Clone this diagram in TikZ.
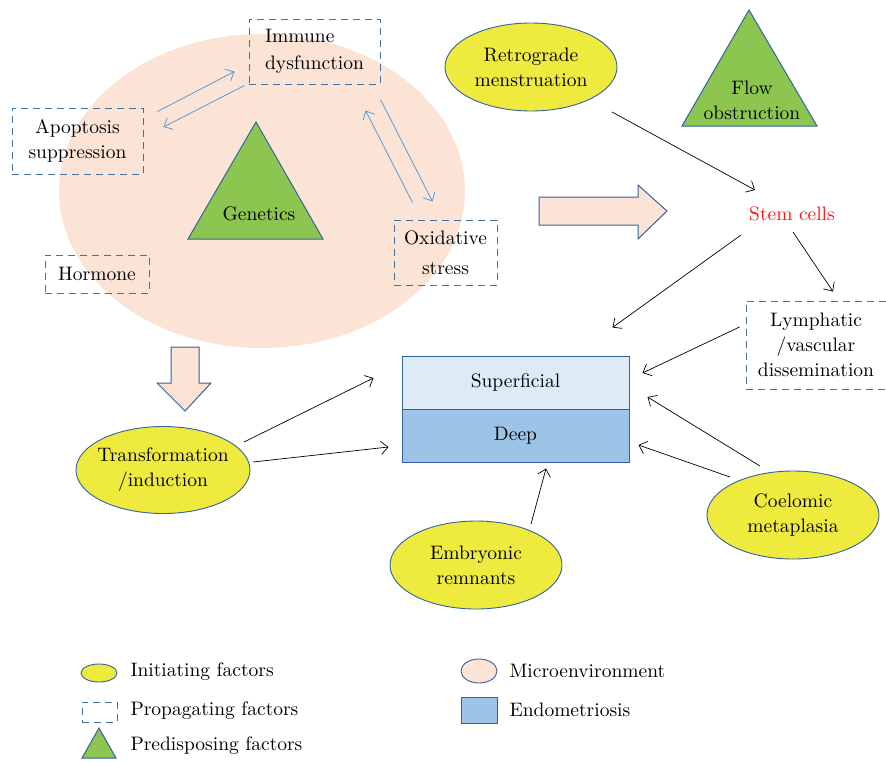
\documentclass[tikz,border=0pt]{standalone}
\usepackage{fontspec}
\setmainfont{lmroman10-regular.otf}
\usepackage{tikz}
\usetikzlibrary{arrows.meta,positioning,calc,shapes.geometric}

\definecolor{microfill}{RGB}{251,228,214}
\definecolor{initfill}{RGB}{238,234,62}
\definecolor{predfill}{RGB}{140,198,80}
\definecolor{shapeline}{RGB}{52,98,160}
\definecolor{dashline}{RGB}{65,113,156}
\definecolor{linkblue}{RGB}{91,155,213}
\definecolor{supfill}{RGB}{221,235,247}
\definecolor{deepfill}{RGB}{157,195,230}
\definecolor{stemred}{RGB}{255,20,20}

\tikzset{
  initiating/.style={ellipse,draw=shapeline,fill=initfill,line width=0.9pt,
    minimum width=172pt,minimum height=88pt,inner sep=0pt,align=center},
  propagating/.style={draw=dashline,dash pattern=on 7pt off 5pt,line width=1pt,
    inner sep=0pt,align=center},
  predisposing/.style={draw=shapeline,fill=predfill,line width=1pt},
  layer/.style={draw=shapeline,line width=1pt,minimum width=227pt,
    minimum height=53pt,inner sep=0pt},
  fatarrow/.style={draw=shapeline,fill=microfill,line width=1pt},
  link/.style={->,line width=0.7pt},
  feedback/.style={->,draw=linkblue,line width=0.8pt},
}

\begin{document}
\begin{tikzpicture}[x=1pt,y=-1pt,>={Straight Barb[length=7pt,width=13pt]},
  font=\fontsize{19.5}{25}\selectfont]
\useasboundingbox (0,0) rectangle (886,761);

% microenvironment
\node (micro) [ellipse,fill=microfill,minimum width=406pt,minimum height=314pt] at (262,191) {};

% propagating factors
\node (immune) [propagating,minimum width=131pt,minimum height=65pt,align=left,
  font=\fontsize{19.5}{27}\selectfont] at (314.5,51.5) {Immune\\dysfunction};
\node (apop)   [propagating,minimum width=131pt,minimum height=66pt] at (77.5,141) {Apoptosis\\suppression};
\node (horm)   [propagating,minimum width=104pt,minimum height=38pt] at (97,274) {Hormone};
\node (oxid)   [propagating,minimum width=103pt,minimum height=65pt,
  font=\fontsize{19.5}{30}\selectfont] at (445.5,252.5) {Oxidative\\stress};
\node (lymph)  [propagating,minimum width=140pt,minimum height=88pt] at (816,345) {Lymphatic\\/vascular\\dissemination};

% predisposing factors
\filldraw[predisposing] (256,122) -- (323,239) -- (188,239) -- cycle;
\node (gen) at (259,214) {Genetics};
\filldraw[predisposing] (749,10) -- (817,126) -- (682,126) -- cycle;
\node (flow) [align=center] at (752,100) {Flow\\obstruction};

% initiating factors
\node (ret)   [initiating] at (531,67) {Retrograde\\menstruation};
\node (trans) [initiating,minimum width=174pt,minimum height=87pt,inner xsep=-6pt] at (163,470) {Transformation\\/induction};
\node (emb)   [initiating] at (476,565) {Embryonic\\remnants};
\node (coel)  [initiating] at (793,515) {Coelomic\\metaplasia};

\node (stem) [text=stemred] at (792,214) {Stem cells};

% endometriosis
\node (sup)  [layer,fill=supfill]  at (515.5,382.5) {Superficial};
\node (deep) [layer,fill=deepfill] at (515.5,435.5) {Deep};

% fat arrows
\filldraw[fatarrow] (539,197) -- (638,197) -- (638,185) -- (667,211) -- (638,239)
  -- (638,225) -- (539,225) -- cycle;
\filldraw[fatarrow] (171,347) -- (199,347) -- (199,383) -- (211,383) -- (185,411)
  -- (157,383) -- (171,383) -- cycle;

% feedback loops
\draw[feedback] ($(apop.north east)+(14,4)$) -- ($(immune.west)+(-14,20)$);
\draw[feedback] ($(immune.south west)+(-4,1)$) -- ($(apop.east)+(20,-14)$);
\draw[feedback] ($(oxid.north west)+(19,-17)$) -- ($(immune.south east)+(-15,26)$);
\draw[feedback] ($(immune.south east)+(0,15)$) -- ($(oxid.north west)+(39,-18)$);

% links
\draw[link] ($(ret.center)+(81,45)$) -- ($(stem.center)+(-37,-24)$);
\draw[link] ($(stem.center)+(-51,21)$) -- ($(sup.north east)+(-17,-28)$);
\draw[link] ($(stem.center)+(1,18)$) -- ($(lymph.north)+(17,-9)$);
\draw[link] ($(lymph.west)+(-6,-18)$) -- ($(sup.east)+(13,-9.5)$);
\draw[link] ($(coel.center)+(-33,-49)$) -- ($(sup.east)+(18,14.5)$);
\draw[link] ($(coel.center)+(-63,-38)$) -- ($(deep.east)+(9,9.5)$);
\draw[link] ($(emb.center)+(55,-41)$) -- ($(deep.south)+(30.5,6)$);
\draw[link] ($(trans.center)+(81,-28)$) -- ($(sup.west)+(-28,-4.5)$);
\draw[link] ($(trans.center)+(90,-8)$) -- ($(deep.west)+(-13,11.5)$);

% legend
\node (keyinit)  [initiating,minimum width=36pt,minimum height=18pt] at (99,673) {};
\node (keyprop)  [propagating,minimum width=35pt,minimum height=20pt] at (99.5,712) {};
\filldraw[predisposing] (99,728) -- (116,758) -- (82,758) -- cycle;
\node (keymicro) [ellipse,draw=shapeline,fill=microfill,line width=0.9pt,
  minimum width=36pt,minimum height=24pt,inner sep=0pt] at (479,671) {};
\node (keyendo)  [draw=shapeline,fill=deepfill,line width=1pt,
  minimum width=36pt,minimum height=26pt,inner sep=0pt] at (479,710) {};
\node (txtinit)  [anchor=west] at (127,672) {Initiating factors};
\node (txtprop)  [anchor=west] at (127,711) {Propagating factors};
\node (txtpred)  [anchor=west] at (127,746) {Predisposing factors};
\node (txtmicro) [anchor=west] at (506,671) {Microenvironment};
\node (txtendo)  [anchor=west] at (506,710) {Endometriosis};
\end{tikzpicture}
\end{document}
